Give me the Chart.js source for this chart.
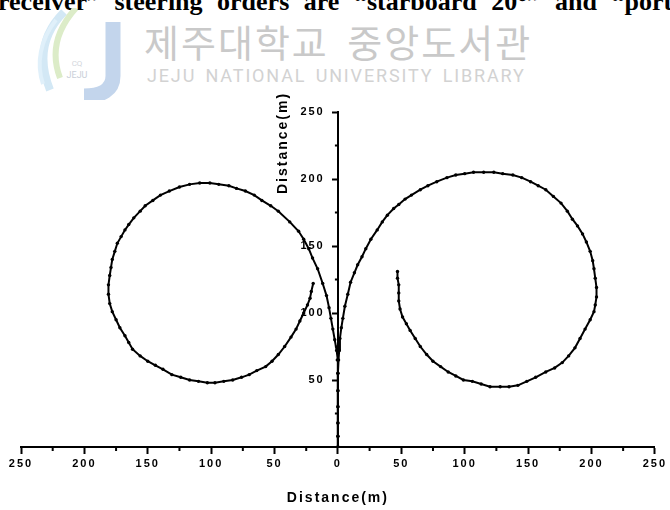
<!DOCTYPE html>
<html>
<head>
<meta charset="utf-8">
<script src="https://cdn.jsdelivr.net/npm/chart.js@4"></script>
<style>
  html, body { margin: 0; padding: 0; background: #fff; }
  #page { position: relative; width: 670px; height: 510px; overflow: hidden; }
  #header {
    position: absolute; left: -15px; top: -13px; white-space: nowrap;
    font: bold 26px "Liberation Serif", serif; color: #000; word-spacing: 8px;
  }
  #logo { position: absolute; left: 34px; top: 8px; }
  #wmKo {
    position: absolute; left: 144px; top: 13px; white-space: nowrap;
    font: 38px "Noto Sans CJK KR", sans-serif; color: #c9c9c9; letter-spacing: 2px; word-spacing: 8px;
  }
  #wmEn {
    position: absolute; left: 147px; top: 65px; white-space: nowrap;
    font: 18px Roboto, sans-serif; color: #d2d2d2; letter-spacing: 1.85px; word-spacing: 3px;
  }
  #chartBox { position: absolute; left: 0; top: 0; width: 670px; height: 510px; }
</style>
</head>
<body>
<div id="page">
  <div id="header">“receiver” steering orders are “starboard 20°” and “port 20°”</div>
  <svg id="logo" width="95" height="92" viewBox="0 0 95 92">
    <path d="M30 4 C8 26 4 52 16 82" stroke="#d3e8f5" stroke-width="8" fill="none"/>
    <path d="M42 0 C22 22 17 46 26 70" stroke="#dcecc8" stroke-width="6" fill="none"/>
    <path d="M22 12 C6 32 2 56 9 76" stroke="#e0f0fa" stroke-width="4" fill="none"/>
    <path d="M79 14 L79 68 C79 82 68 88 50 88" stroke="#c3d5ec" stroke-width="15" fill="none"/>
    <text x="43" y="70" font-family="Roboto" font-size="9" fill="#c9cfd8" text-anchor="middle">JEJU</text>
    <text x="43" y="58" font-family="Roboto" font-size="8" fill="#d2d6dc" text-anchor="middle">CQ</text>
  </svg>
  <div id="wmKo">제주대학교 중앙도서관</div>
  <div id="wmEn">JEJU NATIONAL UNIVERSITY  LIBRARY</div>
  <div id="chartBox"><canvas id="turnChart"></canvas></div>
</div>
<script>
/* turning circle tracks, metres (x: port < 0 < starboard) */
const portX = [0, 0, 0, 0, 0, 0, -0.5, -1, -2.5, -4, -5.5, -7, -9, -12, -16, -20, -23, -27, -31, -38,
  -47, -53, -60, -66, -73, -80, -86, -94, -101, -109, -117, -125, -133, -140, -146, -152, -156, -161,
  -165, -168, -171, -174, -176, -178, -179, -180, -181, -181, -180, -178, -175, -172, -168, -165, -162,
  -156, -150, -144, -138, -131, -124, -117, -110, -103, -97, -90, -83, -76, -70, -64, -57, -52, -47,
  -42, -37, -33, -30, -27, -24, -22, -21, -19.5];
const portY = [0, 8, 18, 30, 42, 55, 65, 72, 80, 88, 96, 104, 113, 122, 133, 141, 148, 155, 161, 168,
  176, 180, 184, 188, 191, 193, 195, 196, 197, 197, 196, 194, 191, 188, 184, 180, 176, 171,
  166, 162, 157, 152, 146, 140, 134, 128, 121, 114, 107, 101, 95, 89, 83, 78, 73,
  68, 64, 61, 58, 54, 52, 50, 49, 48, 48, 49, 50, 52, 54, 57, 60, 64, 69,
  75, 82, 88, 94, 100, 106, 111, 116, 122];

const stbdX = [0, 0, 0, 0, 0, 0, 0.5, 1, 1.6, 2.7, 3.9, 5.5, 7.8, 10, 13, 15.6, 19, 22, 26, 31, 35,
  39, 44, 48, 53, 58, 65, 71, 78, 86, 93, 100, 107, 115, 123, 130, 138, 145, 152, 158, 164, 170,
  176, 181, 185, 189, 193, 196, 199, 201, 202, 203, 204, 204, 203, 202, 199, 195, 191, 187, 182,
  177, 171, 164, 156, 149, 142, 135, 128, 120, 113, 106, 99, 93, 87, 81, 75, 70, 65, 61, 57, 54,
  51, 49, 48, 48, 48, 47, 47];
const stbdY = [0, 8, 18, 30, 42, 55, 65, 72, 81, 89, 96, 105, 114, 123, 130, 136, 142, 148, 155, 162, 168,
  173, 178, 181, 185, 188, 192, 195, 198, 201, 203, 204, 205, 205, 205, 204, 203, 201, 198, 195, 192, 187,
  182, 176, 170, 165, 159, 153, 146, 139, 133, 126, 119, 112, 106, 101, 95, 88, 81, 74, 68,
  63, 59, 56, 52, 49, 46, 45, 45, 45, 47, 49, 50, 53, 56, 60, 64, 69, 75, 81, 87, 92,
  97, 103, 109, 115, 121, 126, 131];

const xTicks = [-250, -200, -150, -100, -50, 0, 50, 100, 150, 200, 250];
const yTicks = [0, 50, 100, 150, 200, 250];
const minorX = [-225, -175, -125, -75, -25, 25, 75, 125, 175, 225];
const minorY = [25, 75, 125, 175, 225];
const axisTitle = "Distance(m)";

const INK = "#000";
const tickFont = { family: "'Liberation Sans', Arial, sans-serif", size: 11, weight: "bold" };

const toPoints = (xs, ys) => xs.map((x, i) => ({ x: x, y: ys[i] }));

/* letter spacing for the scanned-figure look; canvas state is lost on resize */
const spacing = {
  id: "spacing",
  beforeLayout(chart) { chart.ctx.letterSpacing = "2px"; },
  beforeDraw(chart) { chart.ctx.letterSpacing = "2px"; }
};

/* short minor ticks plus the rotated y title beside the centre axis */
const extras = {
  id: "extras",
  afterDraw(chart) {
    const { ctx, scales: { x, y } } = chart;
    const x0 = x.getPixelForValue(0);
    const yb = y.getPixelForValue(0);
    ctx.save();
    ctx.strokeStyle = INK;
    ctx.lineWidth = 2;
    ctx.beginPath();
    minorX.forEach(v => { const px = x.getPixelForValue(v); ctx.moveTo(px, yb); ctx.lineTo(px, yb + 4); });
    minorY.forEach(v => { const py = y.getPixelForValue(v); ctx.moveTo(x0, py); ctx.lineTo(x0 - 3, py); });
    ctx.stroke();

    ctx.translate(x0 - 55, y.getPixelForValue(250) + 31);
    ctx.rotate(-Math.PI / 2);
    ctx.letterSpacing = "2px";
    ctx.font = "bold 14px 'Liberation Sans', Arial, sans-serif";
    ctx.fillStyle = INK;
    ctx.textAlign = "center";
    ctx.textBaseline = "middle";
    ctx.fillText(axisTitle, 0, 0);
    ctx.restore();
  }
};

const lineStyle = {
  showLine: true, borderColor: INK, borderWidth: 2, tension: 0,
  pointRadius: 1.7, pointBackgroundColor: INK, pointBorderWidth: 0
};

new Chart(document.getElementById("turnChart"), {
  type: "scatter",
  data: {
    datasets: [
      { label: "port", data: toPoints(portX, portY), ...lineStyle },
      { label: "starboard", data: toPoints(stbdX, stbdY), ...lineStyle }
    ]
  },
  options: {
    responsive: true,
    maintainAspectRatio: false,
    animation: false,
    layout: { autoPadding: false, padding: { left: 21, right: 12, top: 112, bottom: 0 } },
    plugins: { legend: { display: false }, tooltip: { enabled: false } },
    scales: {
      x: {
        type: "linear", position: "bottom", min: -250, max: 250,
        afterBuildTicks: s => { s.ticks = xTicks.map(v => ({ value: v })); },
        ticks: { color: INK, font: tickFont, padding: 3, maxRotation: 0, callback: v => Math.abs(v) },
        grid: { display: true, drawOnChartArea: false, drawTicks: true, tickLength: 7, tickWidth: 2, tickColor: INK },
        border: { display: true, color: INK, width: 2 },
        title: { display: true, text: axisTitle, color: INK, padding: { top: 17, bottom: 3 },
                 font: { family: tickFont.family, size: 14, weight: "bold" } }
      },
      y: {
        type: "linear", position: { x: 0 }, min: 0, max: 250,
        afterBuildTicks: s => { s.ticks = yTicks.map(v => ({ value: v })); },
        /* label sits right-aligned on the centre axis; trailing spaces keep it clear of the ticks */
        ticks: { color: INK, font: tickFont, padding: 10, callback: v => (v === 0 ? "" : v + "\u2007 ") },
        grid: { display: true, drawOnChartArea: false, drawTicks: true, tickLength: 5, tickWidth: 2,
                tickColor: c => (c.tick && c.tick.value === 0 ? "rgba(0,0,0,0)" : INK) },
        border: { display: true, color: INK, width: 2 }
      }
    }
  },
  plugins: [spacing, extras]
});
</script>
</body>
</html>
